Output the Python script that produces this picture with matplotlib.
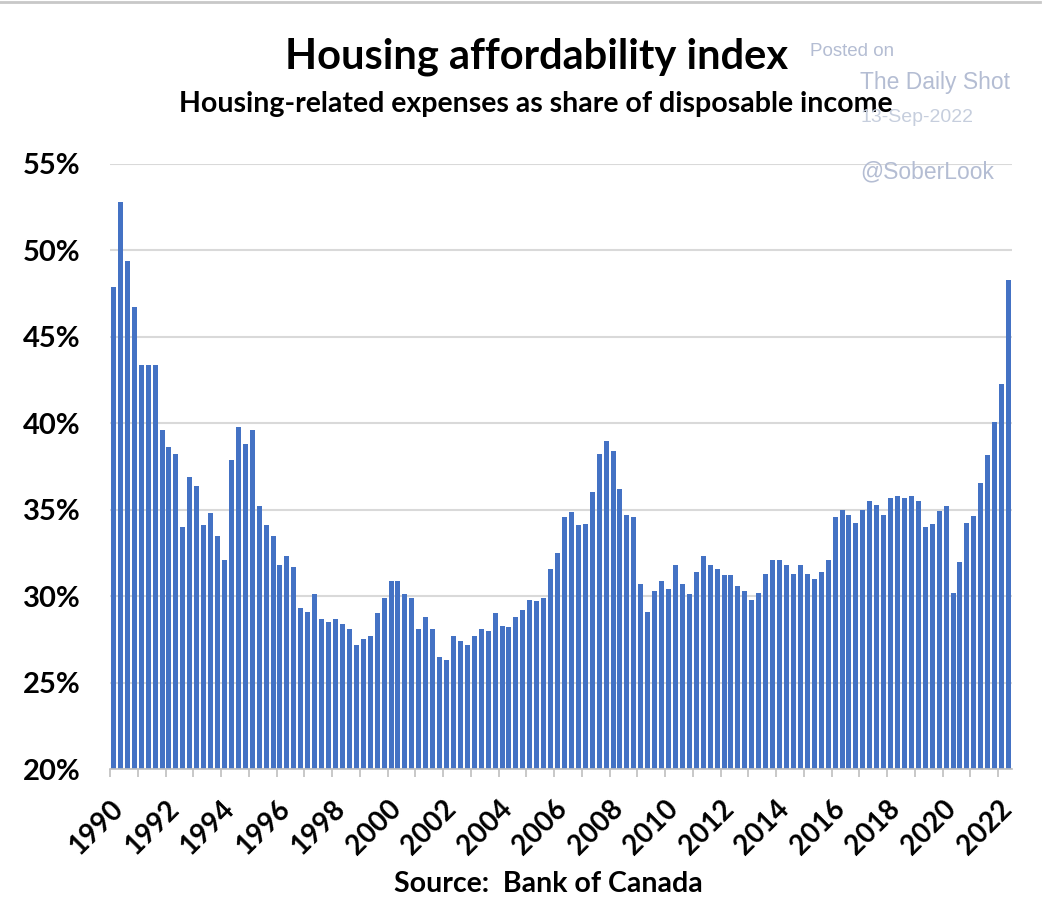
import matplotlib
matplotlib.use("Agg")
import matplotlib.pyplot as plt
import numpy as np

# Quarterly data, 1990Q1 .. 2022Q2 (percent of disposable income)
start_year = 1990
values = [
    47.9, 52.8, 49.4, 46.7,   # 1990
    43.4, 43.4, 43.4, 39.6,   # 1991
    38.6, 38.2, 34.0, 36.9,   # 1992
    36.4, 34.1, 34.8, 33.5,   # 1993
    32.1, 37.9, 39.8, 38.8,   # 1994
    39.6, 35.2, 34.1, 33.5,   # 1995
    31.8, 32.3, 31.7, 29.3,   # 1996
    29.1, 30.1, 28.7, 28.5,   # 1997
    28.7, 28.4, 28.1, 27.2,   # 1998
    27.5, 27.7, 29.0, 29.9,   # 1999
    30.85, 30.85, 30.15, 29.9,  # 2000
    28.1, 28.8, 28.1, 26.5,   # 2001
    26.3, 27.7, 27.4, 27.2,   # 2002
    27.7, 28.1, 28.0, 29.0,   # 2003
    28.3, 28.2, 28.8, 29.2,   # 2004
    29.8, 29.7, 29.9, 31.55,  # 2005
    32.5, 34.55, 34.85, 34.1, # 2006
    34.2, 36.05, 38.25, 38.95,  # 2007
    38.4, 36.2, 34.7, 34.55,  # 2008
    30.7, 29.1, 30.3, 30.9,   # 2009
    30.4, 31.8, 30.7, 30.1,   # 2010
    31.4, 32.35, 31.8, 31.55, # 2011
    31.2, 31.2, 30.6, 30.3,   # 2012
    29.8, 30.2, 31.3, 32.1,   # 2013
    32.1, 31.8, 31.3, 31.8,   # 2014
    31.3, 31.0, 31.4, 32.1,   # 2015
    34.6, 35.0, 34.7, 34.25,  # 2016
    35.0, 35.5, 35.3, 34.7,   # 2017
    35.65, 35.8, 35.65, 35.8, # 2018
    35.5, 34.0, 34.2, 34.95,  # 2019
    35.2, 30.2, 31.95, 34.25, # 2020
    34.65, 36.55, 38.15, 40.1,  # 2021
    42.3, 48.3,               # 2022
]
year_labels = [str(y) for y in range(1990, 2023, 2)]
y_ticks = [20, 25, 30, 35, 40, 45, 50, 55]
y_tick_labels = [f"{v}%" for v in y_ticks]

title = "Housing affordability index"
subtitle = "Housing-related expenses as share of disposable income"
source = "Source:  Bank of Canada"

BAR = "#4472C4"
GRID = "#D9D9D9"
WM = "#B4BDD3"
FONT = "Lato"

W, H = 1057, 898
fig = plt.figure(figsize=(W / 100, H / 100), dpi=100)
fig.patch.set_facecolor("white")

ax = fig.add_axes([110 / W, 1 - 769 / H, (1012 - 110) / W, (769 - 164) / H])
x = np.arange(len(values))
ax.bar(x, values, width=0.72, color=BAR, zorder=3)

ax.set_xlim(-0.5, len(values) - 0.5)
ax.set_ylim(20, 55)
ax.set_yticks(y_ticks)
ax.set_yticklabels(y_tick_labels, fontsize=21, fontweight="bold", family=FONT)
ax.tick_params(axis="y", length=0, pad=21)
ax.yaxis.grid(True, color=GRID, linewidth=1.5, zorder=0)

# x ticks: minor tick every year, label every two years
year_pos = [(y - start_year) * 4 - 0.5 for y in range(start_year, 2023)]
ax.set_xticks(year_pos, minor=True)
label_pos = [(int(l) - start_year) * 4 - 0.5 for l in year_labels]
ax.set_xticks(label_pos)
ax.set_xticklabels(year_labels, fontsize=20, fontweight="bold", family=FONT,
                   rotation=45, ha="right", va="top", rotation_mode="anchor")
ax.tick_params(axis="x", which="both", length=6, color="#BFBFBF", width=1.2)
ax.tick_params(axis="x", which="major", pad=13)

for s in ["top", "right", "left"]:
    ax.spines[s].set_visible(False)
ax.spines["bottom"].set_color("#BFBFBF")
ax.spines["bottom"].set_linewidth(1.2)
ax.spines["bottom"].set_zorder(4)

# Titles
fig.text(537 / W, 1 - 57 / H, title, ha="center", va="center",
         fontsize=30, fontweight="bold", family=FONT)
fig.text(536 / W, 1 - 104 / H, subtitle, ha="center", va="center",
         fontsize=20.5, fontweight="bold", family=FONT)
fig.text(548 / W, 1 - 884 / H, source, ha="center", va="center",
         fontsize=20.5, fontweight="bold", family=FONT)

# Watermark
fig.text(810 / W, 1 - 52 / H, "Posted on", ha="left", va="center",
         fontsize=13.5, color=WM, family="Liberation Sans")
fig.text(860 / W, 1 - 82 / H, "The Daily Shot", ha="left", va="center",
         fontsize=16.5, color=WM, family="Liberation Sans")
fig.text(860 / W, 1 - 117 / H, "13-Sep-2022", ha="left", va="center",
         fontsize=14, color="#C6CEDD", family="Liberation Sans")
fig.text(860 / W, 1 - 172 / H, "@SoberLook", ha="left", va="center",
         fontsize=16.5, color=WM, family="Liberation Sans")

# thin screenshot border on top
fig.add_artist(plt.Line2D([0, 1040 / W], [1 - 1.5 / H, 1 - 1.5 / H],
                          transform=fig.transFigure, color="#C8C8C8", linewidth=2))

fig.savefig("out.png", dpi=100, facecolor="white")
